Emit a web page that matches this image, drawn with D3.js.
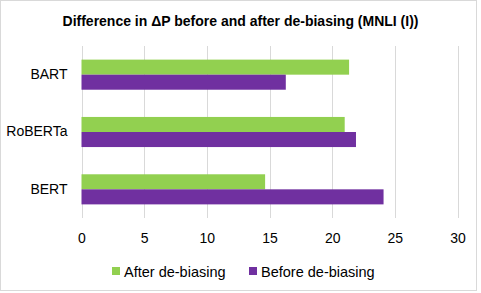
<!DOCTYPE html>
<html>
<head>
<meta charset="utf-8">
<script src="https://cdn.jsdelivr.net/npm/d3@7"></script>
<style>
  body { margin: 0; background: #fff; }
  text { font-family: "Liberation Sans", Arial, sans-serif; }
</style>
</head>
<body>
<script>
var w = 481;
var h = 293;

// data
var models = ["BART", "RoBERTa", "BERT"];
var seriesNames = ["After de-biasing", "Before de-biasing"];
var afterVals = [21.35, 21.0, 14.65];
var beforeVals = [16.3, 21.9, 24.1];
var xTicks = [0, 5, 10, 15, 20, 25, 30];
var colors = ["#92D050", "#7030A0"];

var rows = models.map(function(m, i) {
  return { model: m, values: [afterVals[i], beforeVals[i]] };
});

// plot area (window.top is reserved, so no "top" here)
var plotLeft = 81.5, plotRight = 457.5, plotTop = 46, plotBottom = 218;

var svg = d3.select("body")
            .append("svg")
            .attr("width", w)
            .attr("height", h);

svg.append("rect")
  .attr("x", 0.5).attr("y", 0.5)
  .attr("width", 476).attr("height", 290)
  .attr("fill", "#fff")
  .attr("stroke", "#d9d9d9");

var x = d3.scaleLinear().domain([0, 30]).range([plotLeft, plotRight]);
var y = d3.scaleBand().domain(models).range([plotTop, plotBottom]).paddingInner(0.475).paddingOuter(0.2375);
var ySub = d3.scaleBand().domain([0, 1]).range([0, y.bandwidth()]);

// gridlines
svg.append("g").selectAll("line")
  .data(xTicks)
  .enter()
  .append("line")
  .attr("x1", function(d) { return Math.round(x(d)) + 0.5; })
  .attr("x2", function(d) { return Math.round(x(d)) + 0.5; })
  .attr("y1", plotTop)
  .attr("y2", plotBottom)
  .attr("stroke", "#d9d9d9")
  .attr("stroke-width", 1);

// bars
var groups = svg.append("g").selectAll("g")
  .data(rows)
  .enter()
  .append("g")
  .attr("transform", function(d) { return "translate(0," + y(d.model) + ")"; });

groups.selectAll("rect")
  .data(function(d) { return d.values; })
  .enter()
  .append("rect")
  .attr("x", x(0))
  .attr("y", function(d, i) { return ySub(i); })
  .attr("width", function(d) { return x(d) - x(0); })
  .attr("height", ySub.bandwidth())
  .attr("fill", function(d, i) { return colors[i]; });

// x axis labels
var xAxis = d3.axisBottom(x).tickValues(xTicks).tickSize(0).tickPadding(0);
var gx = svg.append("g")
  .attr("transform", "translate(0," + 233 + ")")
  .call(xAxis);
gx.select(".domain").remove();
gx.selectAll("text")
  .attr("dy", "0.71em")
  .attr("font-size", "14px")
  .attr("font-family", "'Liberation Sans', Arial, sans-serif")
  .attr("fill", "#000");

// y axis labels
var yAxis = d3.axisLeft(y).tickSize(0).tickPadding(14);
var gy = svg.append("g")
  .attr("transform", "translate(" + plotLeft + ",0)")
  .call(yAxis);
gy.select(".domain").remove();
gy.selectAll("text")
  .attr("font-size", "14px")
  .attr("font-family", "'Liberation Sans', Arial, sans-serif")
  .attr("fill", "#000");

// title
svg.append("text")
  .attr("x", 240.5)
  .attr("y", 26)
  .attr("text-anchor", "middle")
  .attr("font-size", "14px")
  .attr("font-weight", "bold")
  .attr("fill", "#000")
  .text("Difference in \u0394P before and after de-biasing (MNLI (I))");

// legend
var legendX = [112, 249];
var legend = svg.append("g").selectAll("g")
  .data(seriesNames)
  .enter()
  .append("g")
  .attr("transform", function(d, i) { return "translate(" + legendX[i] + ",267)"; });

legend.append("rect")
  .attr("width", 8)
  .attr("height", 8)
  .attr("fill", function(d, i) { return colors[i]; });

legend.append("text")
  .attr("x", 12)
  .attr("y", 9.5)
  .attr("font-size", "14.5px")
  .attr("fill", "#000")
  .text(function(d) { return d; });
</script>
</body>
</html>
